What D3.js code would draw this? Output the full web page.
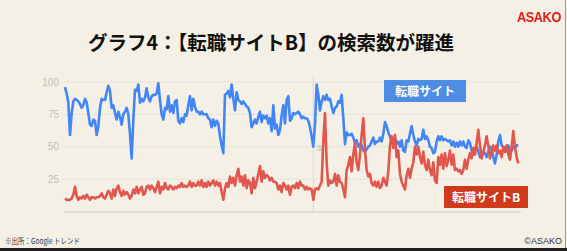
<!DOCTYPE html>
<html>
<head>
<meta charset="utf-8">
<script src="https://cdn.jsdelivr.net/npm/d3@7"></script>
<style>
  body { margin: 0; background: #f4f0e6; }
  svg { display: block; }
</style>
</head>
<body>
<div id="root"></div>
<script>
// weekly Google Trends index
var jobSite = [
  96, 91, 84, 59, 76, 85, 87, 86, 85, 83, 80, 82, 87, 84, 76, 67, 66, 71, 70, 59,
  66, 80, 87, 86, 86, 92, 97, 93, 80, 82, 76, 71, 77, 73, 67, 75, 77, 80, 75, 60,
  41, 71, 94, 93, 98, 84, 87, 85, 88, 95, 88, 85, 89, 90, 90, 91, 99, 86, 75, 71,
  80, 79, 89, 77, 82, 76, 85, 86, 70, 68, 72, 69, 75, 74, 82, 89, 78, 87, 81, 77,
  77, 75, 77, 75, 75, 75, 72, 71, 65, 71, 66, 70, 68, 58, 51, 45, 90, 91, 93, 88,
  98, 87, 78, 92, 86,
  85, 83, 85, 83, 81, 80, 76, 65, 68, 71, 68, 73, 77, 69, 74, 72, 74, 68, 72, 62,
  82, 64, 67, 59, 63, 74, 82,
  68, 86, 89, 70, 72, 76, 75, 76, 77, 75, 72, 73, 72, 72, 70, 65, 58, 50, 67, 98,
  90, 78, 85, 89, 86, 90, 86, 87, 81, 76, 80, 81, 85, 84, 90, 72, 52, 61, 59, 59,
  60, 57, 53, 55, 50, 52, 51, 47, 46, 48, 50, 51, 54, 57, 52, 54, 54, 57, 54, 60,
  69, 66, 61, 58, 54, 55, 57, 52, 54,
  50, 55, 47, 46, 55, 54, 60, 66, 59, 54, 51, 56, 55, 56, 63, 56, 58, 55, 50, 49,
  45, 46, 54, 58, 55, 58, 55, 56, 55, 54, 55, 51, 54, 50, 53, 50, 54, 51, 54, 50,
  49, 55, 53, 47, 44, 49, 50, 46, 42, 44, 46, 45, 42, 46, 50, 49, 42, 37, 44, 54,
  59, 51, 50, 46, 47, 51, 46, 47, 50, 49, 51, 51
];

var jobSiteB = [
  10, 9, 9, 9, 10, 13, 19, 12, 9, 11, 10, 12, 10, 13, 11, 9, 11, 11, 10, 11,
  11, 12, 14, 11, 10, 13, 16, 14, 10, 17, 12, 18, 20, 15, 12, 16, 13, 15, 13, 10,
  12, 17, 14, 19, 14, 17, 19, 13, 14, 19, 20, 17, 20, 18, 15, 19, 23, 14, 19, 17,
  22, 18, 17, 20, 19, 17, 19, 18, 20, 19, 22, 19, 20, 19, 20, 23, 19, 22, 20, 20,
  23, 20, 24, 19, 22, 19, 23, 20, 22, 24, 20, 23, 20, 22, 15, 9, 18, 22, 19, 27,
  22, 26, 20, 28, 33,
  23, 27, 20, 28, 18, 24, 22, 14, 26, 18, 23, 29, 35, 23, 31, 26, 28, 27, 24, 26,
  23, 23, 22, 17, 20, 15, 22,
  20, 17, 20, 13, 19, 20, 18, 22, 18, 23, 20, 20, 17, 19, 17, 18, 17, 9, 17, 18,
  17, 20, 23, 55, 76, 38, 20, 24, 22, 23, 29, 20, 28, 23, 22, 17, 11, 32, 36, 42,
  31, 44, 53, 38, 32, 44, 59, 72, 48, 32, 27, 29, 22, 20, 23, 19, 23, 18, 20, 26,
  23, 20, 31, 51, 58, 49, 59, 42, 47,
  29, 23, 20, 17, 28, 33, 26, 33, 38, 50, 44, 50, 42, 37, 46, 36, 32, 40, 32, 28,
  38, 24, 22, 42, 36, 44, 33, 45, 35, 40, 47, 36, 44, 32, 33, 31, 32, 29, 32, 40,
  33, 40, 45, 41, 49, 44, 53, 63, 51, 41, 46, 51, 58, 51, 41, 46, 51, 47, 51, 45,
  47, 42, 50, 46, 51, 44, 40, 50, 62, 50, 42, 37
];

var yTicks = [25, 50, 75, 100];
var noteWeek = 149;   // Google Trends "note" marker
var seriesNames = ["転職サイト", "転職サイトB"];
var seriesColors = ["#4285f4", "#e2574d"];
var boxColors = ["#4d8de4", "#cf3a1c"];

var W = 567, H = 251;

var svg = d3.select("#root")
    .append("svg")
    .attr("width", W)
    .attr("height", H);

svg.append("rect")
    .attr("width", W)
    .attr("height", H)
    .attr("fill", "#f4f0e6");

var x = d3.scaleLinear()
    .domain([0, jobSite.length - 1])
    .range([65, 518.3]);

var y = d3.scaleLinear()
    .domain([0, 100])
    .range([211.5, 81.9]);

// title + logo
svg.append("text")
    .attr("x", 271)
    .attr("y", 50)
    .attr("text-anchor", "middle")
    .style("font-family", "'Noto Sans CJK JP', sans-serif")
    .style("font-weight", "bold")
    .style("font-size", "19.5px")
    .attr("fill", "#111")
    .text("グラフ4：【転職サイトB】の検索数が躍進");

svg.append("text")
    .attr("transform", "translate(517,22) scale(0.85,1)")
    .style("font-family", "'Liberation Sans', Arial, sans-serif")
    .style("font-weight", "bold")
    .style("font-size", "15px")
    .style("letter-spacing", "-0.5px")
    .attr("fill", "#e5201c")
    .text("ASAKO");

// grid
svg.append("g")
    .selectAll("line")
    .data(yTicks)
    .join("line")
    .attr("x1", 63)
    .attr("x2", 520)
    .attr("y1", d => y(d))
    .attr("y2", d => y(d))
    .attr("stroke", "#e7e3da")
    .attr("stroke-width", 1);

var yAxis = svg.append("g")
    .attr("transform", "translate(62,0)")
    .call(d3.axisLeft(y).tickValues(yTicks).tickSize(0).tickPadding(3));
yAxis.select(".domain").remove();
yAxis.selectAll("text")
    .style("font-family", "'Liberation Sans', Arial, sans-serif")
    .style("font-size", "10px")
    .attr("fill", "#c2bfb8");

// note marker
svg.append("line")
    .attr("x1", x(noteWeek))
    .attr("x2", x(noteWeek))
    .attr("y1", 76)
    .attr("y2", y(0))
    .attr("stroke", "#dcd9d2")
    .attr("stroke-width", 1);

svg.append("text")
    .attr("x", x(noteWeek) + 3)
    .attr("y", 150)
    .style("font-family", "'Noto Sans CJK JP', sans-serif")
    .style("font-size", "6px")
    .attr("fill", "#b5b2ab")
    .text("注");

svg.append("line")
    .attr("x1", 64)
    .attr("x2", 521)
    .attr("y1", y(0) + 0.5)
    .attr("y2", y(0) + 0.5)
    .attr("stroke", "#cfccc5")
    .attr("stroke-width", 1);

var line = d3.line()
    .x((d, i) => x(i))
    .y(d => y(d));

[jobSite, jobSiteB].forEach(function (s, k) {
    svg.append("path")
        .datum(s)
        .attr("fill", "none")
        .attr("stroke", seriesColors[k])
        .attr("stroke-width", 2.6)
        .attr("stroke-linejoin", "round")
        .attr("d", line);
});

// labels
var boxes = [
    { x: 384, y: 80, w: 82, h: 22 },
    { x: 444, y: 186, w: 84, h: 22 }
];
boxes.forEach(function (b, k) {
    svg.append("rect")
        .attr("x", b.x)
        .attr("y", b.y)
        .attr("width", b.w)
        .attr("height", b.h)
        .attr("fill", boxColors[k]);
    svg.append("text")
        .attr("x", b.x + b.w / 2)
        .attr("y", b.y + b.h / 2 + 4.5)
        .attr("text-anchor", "middle")
        .style("font-family", "'Noto Sans CJK JP', sans-serif")
        .style("font-weight", "bold")
        .style("font-size", "12px")
        .attr("fill", "#fff")
        .text(seriesNames[k]);
});

// footer
svg.append("text")
    .attr("x", 5)
    .attr("y", 244)
    .attr("textLength", 75)
    .attr("lengthAdjust", "spacingAndGlyphs")
    .style("font-family", "'Noto Sans CJK JP', sans-serif")
    .style("font-size", "8px")
    .attr("fill", "#333")
    .text("※出所：Google トレンド");

svg.append("text")
    .attr("x", 562)
    .attr("y", 244)
    .attr("text-anchor", "end")
    .style("font-family", "'Liberation Sans', Arial, sans-serif")
    .style("font-size", "9px")
    .attr("fill", "#333")
    .text("©ASAKO");

// frame edges
svg.append("line")
    .attr("x1", 565.5)
    .attr("x2", 565.5)
    .attr("y1", 0)
    .attr("y2", H)
    .attr("stroke", "#9a9892");
svg.append("rect")
    .attr("x", 0)
    .attr("y", 248)
    .attr("width", W)
    .attr("height", 3)
    .attr("fill", "#1e1e1e");
</script>
</body>
</html>
